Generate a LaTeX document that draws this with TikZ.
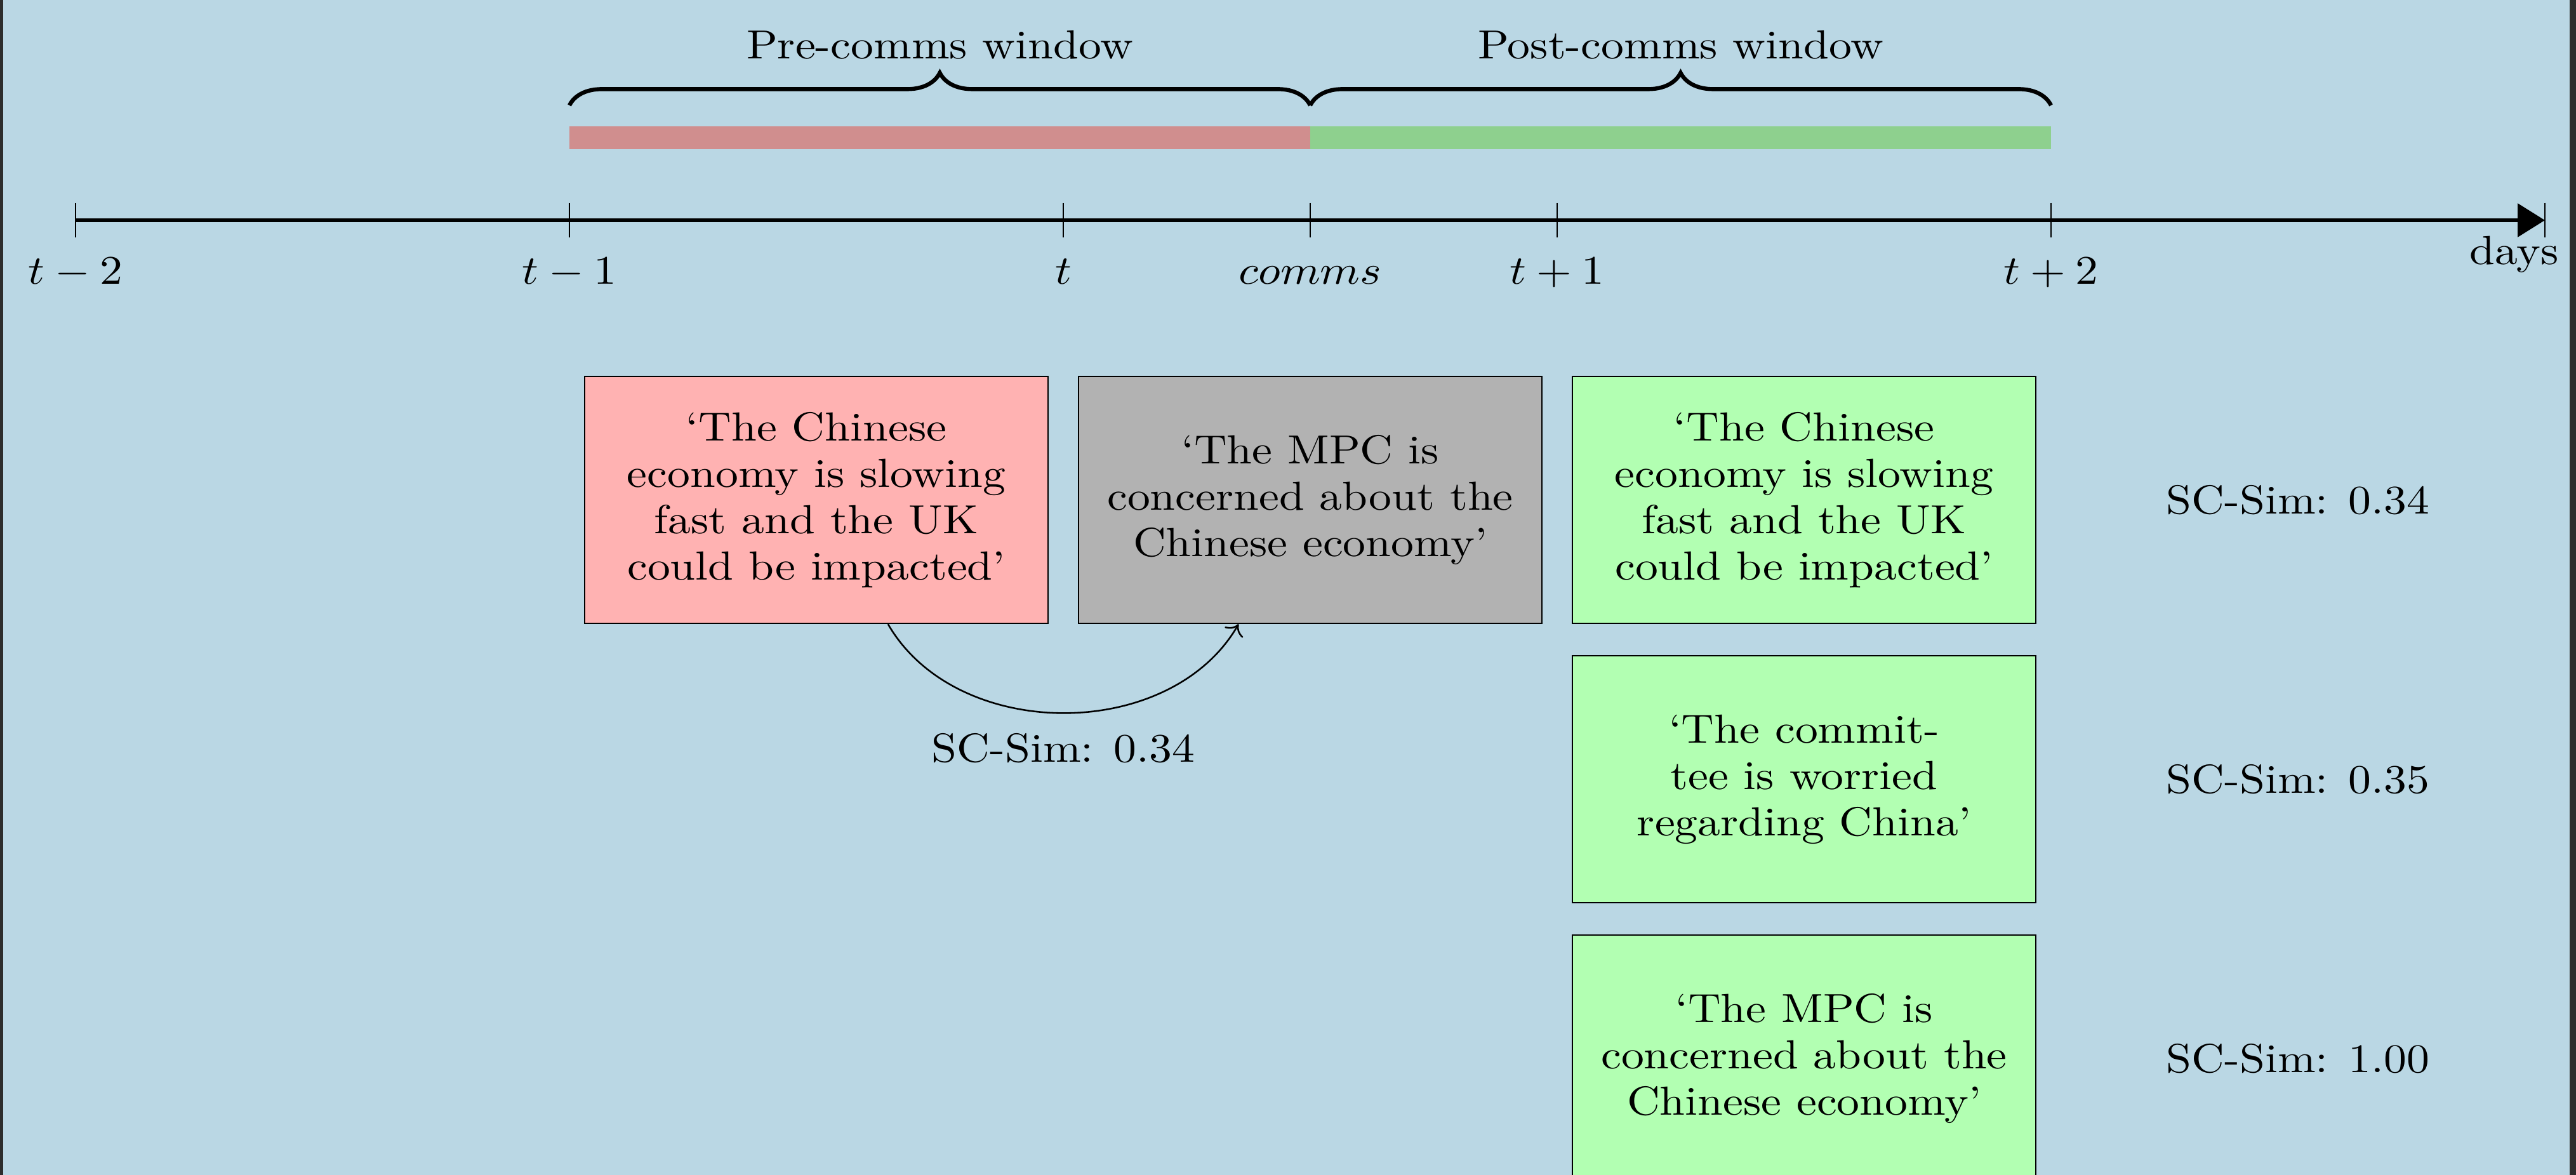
\documentclass[tikz,border=0pt]{standalone}
\usetikzlibrary{arrows.meta,decorations.pathreplacing}
\definecolor{bgblue}{RGB}{186,215,228}
\definecolor{barred}{RGB}{208,142,142}
\definecolor{bargreen}{RGB}{142,208,142}
\definecolor{edgegray}{RGB}{45,45,45}
\begin{document}
\begin{tikzpicture}[x=4.2724cm, y=1cm,
  every node/.append style={xscale=1.12},
  txtbox/.style={draw, text width=95.2pt, minimum height=2.136cm, align=center,
    font=\fontsize{10}{11.4}\selectfont},
  prebox/.style={txtbox, fill=red!30},
  midbox/.style={txtbox, fill=black!30},
  postbox/.style={txtbox, fill=green!30},
  tlab/.style={anchor=base},
  tickmark/.style={thin},
  axisline/.style={line width=1pt, -{Triangle[length=6.7pt,width=8.1pt]}},
  winbar/.style={line width=5.625pt},
  bracestyle/.style={line width=1pt, decorate, decoration={brace, amplitude=8pt}},
]
\fill[bgblue] (-0.15296,-8.2592) rectangle (5.0630,1.9055);
\useasboundingbox (-0.15296,-8.2592) rectangle (5.0630,1.9055);
\fill[edgegray] (-0.15296,-8.2592) rectangle (-0.14653,1.9055);
\fill[edgegray] (5.0501,-8.2592) rectangle (5.0630,1.9055);

% window bars
\coordinate (b1) at (1,0.714);
\coordinate (b2) at (2.5,0.714);
\coordinate (b3) at (4,0.714);
\draw[winbar, barred] (b1) -- (b2);
\draw[winbar, bargreen] (b2) -- (b3);

% braces
\coordinate (br1) at (1,0.994);
\coordinate (br2) at (2.5,0.994);
\coordinate (br3) at (4,0.994);
\draw[bracestyle] (br1) -- (br2);
\draw[bracestyle] (br2) -- (br3);
\node[anchor=base] (prelab) at (1.75,1.400) {Pre-comms window};
\node[anchor=base] (postlab) at (3.25,1.400) {Post-comms window};

% axis
\coordinate (a0) at (0,0);
\coordinate (a5) at (5,0);
\draw[axisline] (a0) -- (a5);
\foreach \x in {0,1,2,2.5,3,4,5} \draw[tickmark] (\x,0.15) -- (\x,-0.15);
\node[tlab] (lab0) at (0,-0.5546) {$t-2$};
\node[tlab] (lab1) at (1,-0.5546) {$t-1$};
\node[tlab] (lab2) at (2,-0.5546) {$t$};
\node[tlab] (labc) at (2.5,-0.5546) {$comms$};
\node[tlab] (lab3) at (3,-0.5546) {$t+1$};
\node[tlab] (lab4) at (4,-0.5546) {$t+2$};
\node[tlab] (days) at (4.938,-0.3844) {days};

% statements
\node[prebox] (pre) at (1.5,-2.419) {`The Chinese economy is slowing fast and the UK could be impacted'};
\node[midbox] (comm) at (2.5,-2.419) {`The MPC is concerned about the Chinese economy'};
\node[postbox] (post1) at (3.5,-2.419) {`The Chinese economy is slowing fast and the UK could be impacted'};
\node[postbox] (post2) at (3.5,-4.835) {`The committee is worried regarding China'};
\node[postbox] (post3) at (3.5,-7.2515) {`The MPC is concerned about the Chinese economy'};
\node (sim1) at (4.5,-2.419) {SC-Sim: 0.34};
\node (sim2) at (4.5,-4.835) {SC-Sim: 0.35};
\node (sim3) at (4.5,-7.2515) {SC-Sim: 1.00};

\draw[->] ([xshift=0.62cm]pre.south) to[out=-60,in=-120]
  node[below, yshift=-1.5pt] (simc) {SC-Sim: 0.34} ([xshift=-0.62cm]comm.south);
\end{tikzpicture}
\end{document}
